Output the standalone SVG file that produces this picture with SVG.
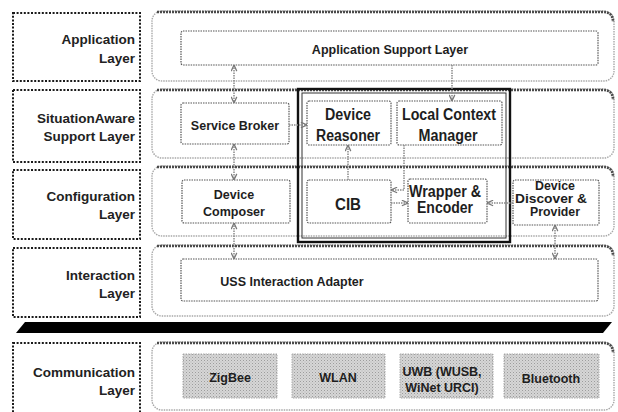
<svg xmlns="http://www.w3.org/2000/svg" width="618" height="412" viewBox="0 0 618 412">
  <style>
    .lbl { fill: none; stroke: #1a1a1a; stroke-width: 2; stroke-dasharray: 2 1.6; }
    .lt { font-family: "Liberation Sans", Arial, sans-serif; font-weight: bold; font-size: 13.5px; fill: #222; text-anchor: end; }
    .cont { fill: #fff; stroke: #a8a8a8; stroke-width: 1.4; stroke-dasharray: 1.5 1; }
    .ctop { fill: none; stroke: #4a4a4a; stroke-width: 2.6; stroke-dasharray: 2 1; }
    .box { fill: #fff; stroke: #555; stroke-width: 1.2; stroke-dasharray: 1.5 1; }
    .t { font-family: "Liberation Sans", Arial, sans-serif; font-weight: bold; font-size: 12.5px; fill: #1e1e1e; text-anchor: middle; }
    .tb { font-family: "Liberation Sans", Arial, sans-serif; font-weight: bold; font-size: 16px; fill: #1e1e1e; text-anchor: middle; }
    .comm { fill: url(#halftone); stroke: #aaa; stroke-width: 1; stroke-dasharray: 1.5 1; }
    .link { fill: none; stroke: #8a8a8a; stroke-width: 1.5; stroke-dasharray: 1.5 1; }
  </style>
  <defs>
    <pattern id="halftone" width="3" height="3" patternUnits="userSpaceOnUse">
      <rect width="3" height="3" fill="#d6d6d6"/>
      <rect x="0" y="0" width="1" height="1" fill="#9c9c9c"/>
      <rect x="1.5" y="1.5" width="1" height="1" fill="#b4b4b4"/>
    </pattern>
    <marker id="arr" viewBox="0 0 8 8" refX="7.5" refY="4" markerWidth="7" markerHeight="7" markerUnits="userSpaceOnUse" orient="auto-start-reverse">
      <path d="M0.5,0.8 L7.5,4 L0.5,7.2" fill="none" stroke="#777" stroke-width="1.4"/>
    </marker>
  </defs>

  <rect width="618" height="412" fill="#fff"/>

  <!-- layer name boxes on the left -->
  <g id="layer-labels">
    <g id="label-application">
      <rect class="lbl" x="13" y="13" width="127" height="68"/>
      <text class="lt" x="135" y="44">Application</text>
      <text class="lt" x="135" y="63">Layer</text>
    </g>
    <g id="label-situationaware">
      <rect class="lbl" x="13" y="90" width="127" height="72"/>
      <text class="lt" x="135" y="123">SituationAware</text>
      <text class="lt" x="135" y="141">Support Layer</text>
    </g>
    <g id="label-configuration">
      <rect class="lbl" x="13" y="170" width="127" height="69"/>
      <text class="lt" x="135" y="201">Configuration</text>
      <text class="lt" x="135" y="219">Layer</text>
    </g>
    <g id="label-interaction">
      <rect class="lbl" x="13" y="248" width="127" height="69"/>
      <text class="lt" x="135" y="280">Interaction</text>
      <text class="lt" x="135" y="298">Layer</text>
    </g>
    <g id="label-communication">
      <rect class="lbl" x="13" y="343" width="127" height="75"/>
      <text class="lt" x="135" y="377">Communication</text>
      <text class="lt" x="135" y="395">Layer</text>
    </g>
  </g>

  <!-- layer containers -->
  <g id="layer-containers">
    <g id="layer-application">
      <rect class="cont" x="152" y="11" width="462" height="70" rx="10"/>
      <path class="ctop" d="M157,12 H603 Q613,12 613,22"/>
    </g>
    <g id="layer-situationaware">
      <rect class="cont" x="152" y="89" width="462" height="69" rx="10"/>
      <path class="ctop" d="M157,90 H603 Q613,90 613,100"/>
    </g>
    <g id="layer-configuration">
      <rect class="cont" x="152" y="166" width="462" height="70" rx="10"/>
      <path class="ctop" d="M157,167 H603 Q613,167 613,177"/>
    </g>
    <g id="layer-interaction">
      <rect class="cont" x="152" y="245" width="462" height="71" rx="10"/>
      <path class="ctop" d="M157,246 H603 Q613,246 613,256"/>
    </g>
    <g id="layer-communication">
      <rect class="cont" x="152" y="342" width="462" height="68" rx="10"/>
      <path class="ctop" d="M157,343 H603 Q613,343 613,353"/>
    </g>
  </g>

  <!-- separator bar -->
  <polygon id="separator" points="25,322 612,322 603,333 16,333" fill="#000"/>

  <!-- reasoning core frame -->
  <g id="core-frame">
    <rect x="298" y="89" width="212" height="153" fill="none" stroke="#111" stroke-width="2.4"/>
    <rect x="302" y="93" width="204" height="145" fill="none" stroke="#333" stroke-width="1"/>
  </g>

  <!-- nodes -->
  <g id="app-support-layer">
    <rect class="box" x="181" y="31" width="417" height="34" rx="2"/>
    <text class="t" x="390" y="54">Application Support Layer</text>
  </g>
  <g id="service-broker">
    <rect class="box" x="181" y="103" width="108" height="41" rx="2"/>
    <text class="t" x="235" y="130">Service Broker</text>
  </g>
  <g id="device-reasoner">
    <rect class="box" x="307" y="101" width="84" height="44" rx="2"/>
    <text class="tb" x="348" y="120" textLength="46" lengthAdjust="spacingAndGlyphs">Device</text>
    <text class="tb" x="348" y="141" textLength="64" lengthAdjust="spacingAndGlyphs">Reasoner</text>
  </g>
  <g id="local-context-manager">
    <rect class="box" x="397" y="101" width="105" height="44" rx="2"/>
    <text class="tb" x="449" y="120" textLength="94" lengthAdjust="spacingAndGlyphs">Local Context</text>
    <text class="tb" x="448" y="141" textLength="59" lengthAdjust="spacingAndGlyphs">Manager</text>
  </g>
  <g id="device-composer">
    <rect class="box" x="182" y="180" width="108" height="43" rx="2"/>
    <text class="t" x="234" y="199">Device</text>
    <text class="t" x="234" y="216">Composer</text>
  </g>
  <g id="cib">
    <rect class="box" x="307" y="180" width="84" height="43" rx="2"/>
    <text class="tb" x="348" y="210" font-size="17" textLength="26" lengthAdjust="spacingAndGlyphs">CIB</text>
  </g>
  <g id="wrapper-encoder">
    <rect class="box" x="408" y="179" width="79" height="44" rx="2"/>
    <text class="tb" x="445" y="197" font-size="14" textLength="72" lengthAdjust="spacingAndGlyphs">Wrapper &amp;</text>
    <text class="tb" x="445" y="213" font-size="14" textLength="56" lengthAdjust="spacingAndGlyphs">Encoder</text>
  </g>
  <g id="device-discover-provider">
    <rect class="box" x="513" y="180" width="86" height="45" rx="2"/>
    <text class="t" x="555" y="190" font-size="11" textLength="40" lengthAdjust="spacingAndGlyphs">Device</text>
    <text class="t" x="551" y="203" font-size="11" textLength="72" lengthAdjust="spacingAndGlyphs">Discover &amp;</text>
    <text class="t" x="555" y="216" font-size="11" textLength="50" lengthAdjust="spacingAndGlyphs">Provider</text>
  </g>
  <g id="uss-interaction-adapter">
    <rect class="box" x="181" y="259" width="417" height="42" rx="2"/>
    <text class="t" x="292" y="286" text-anchor="start">USS Interaction Adapter</text>
  </g>
  <g id="zigbee">
    <rect class="comm" x="183" y="354" width="94" height="44"/>
    <text class="t" x="230" y="382">ZigBee</text>
  </g>
  <g id="wlan">
    <rect class="comm" x="292" y="354" width="93" height="44"/>
    <text class="t" x="338" y="382">WLAN</text>
  </g>
  <g id="uwb">
    <rect class="comm" x="400" y="354" width="93" height="44"/>
    <text class="t" x="442" y="376">UWB (WUSB,</text>
    <text class="t" x="442" y="392">WiNet URCI)</text>
  </g>
  <g id="bluetooth">
    <rect class="comm" x="504" y="354" width="95" height="44"/>
    <text class="t" x="551" y="383">Bluetooth</text>
  </g>

  <!-- connectors -->
  <g id="connectors">
    <line class="link" x1="234" y1="65" x2="234" y2="103" marker-start="url(#arr)" marker-end="url(#arr)"/>
    <line class="link" x1="452" y1="65" x2="452" y2="101" marker-end="url(#arr)"/>
    <line class="link" x1="289" y1="125" x2="307" y2="125" marker-end="url(#arr)"/>
    <line class="link" x1="234" y1="144" x2="234" y2="180" marker-start="url(#arr)" marker-end="url(#arr)"/>
    <line class="link" x1="348" y1="180" x2="348" y2="145" marker-end="url(#arr)"/>
    <path class="link" d="M404,145 V190 H391" marker-end="url(#arr)"/>
    <line class="link" x1="391" y1="203" x2="408" y2="203" marker-end="url(#arr)"/>
    <line class="link" x1="513" y1="203" x2="487" y2="203" marker-end="url(#arr)"/>
    <line class="link" x1="234" y1="223" x2="234" y2="259" marker-start="url(#arr)" marker-end="url(#arr)"/>
    <line class="link" x1="555" y1="225" x2="555" y2="259" marker-start="url(#arr)" marker-end="url(#arr)"/>
  </g>
</svg>
